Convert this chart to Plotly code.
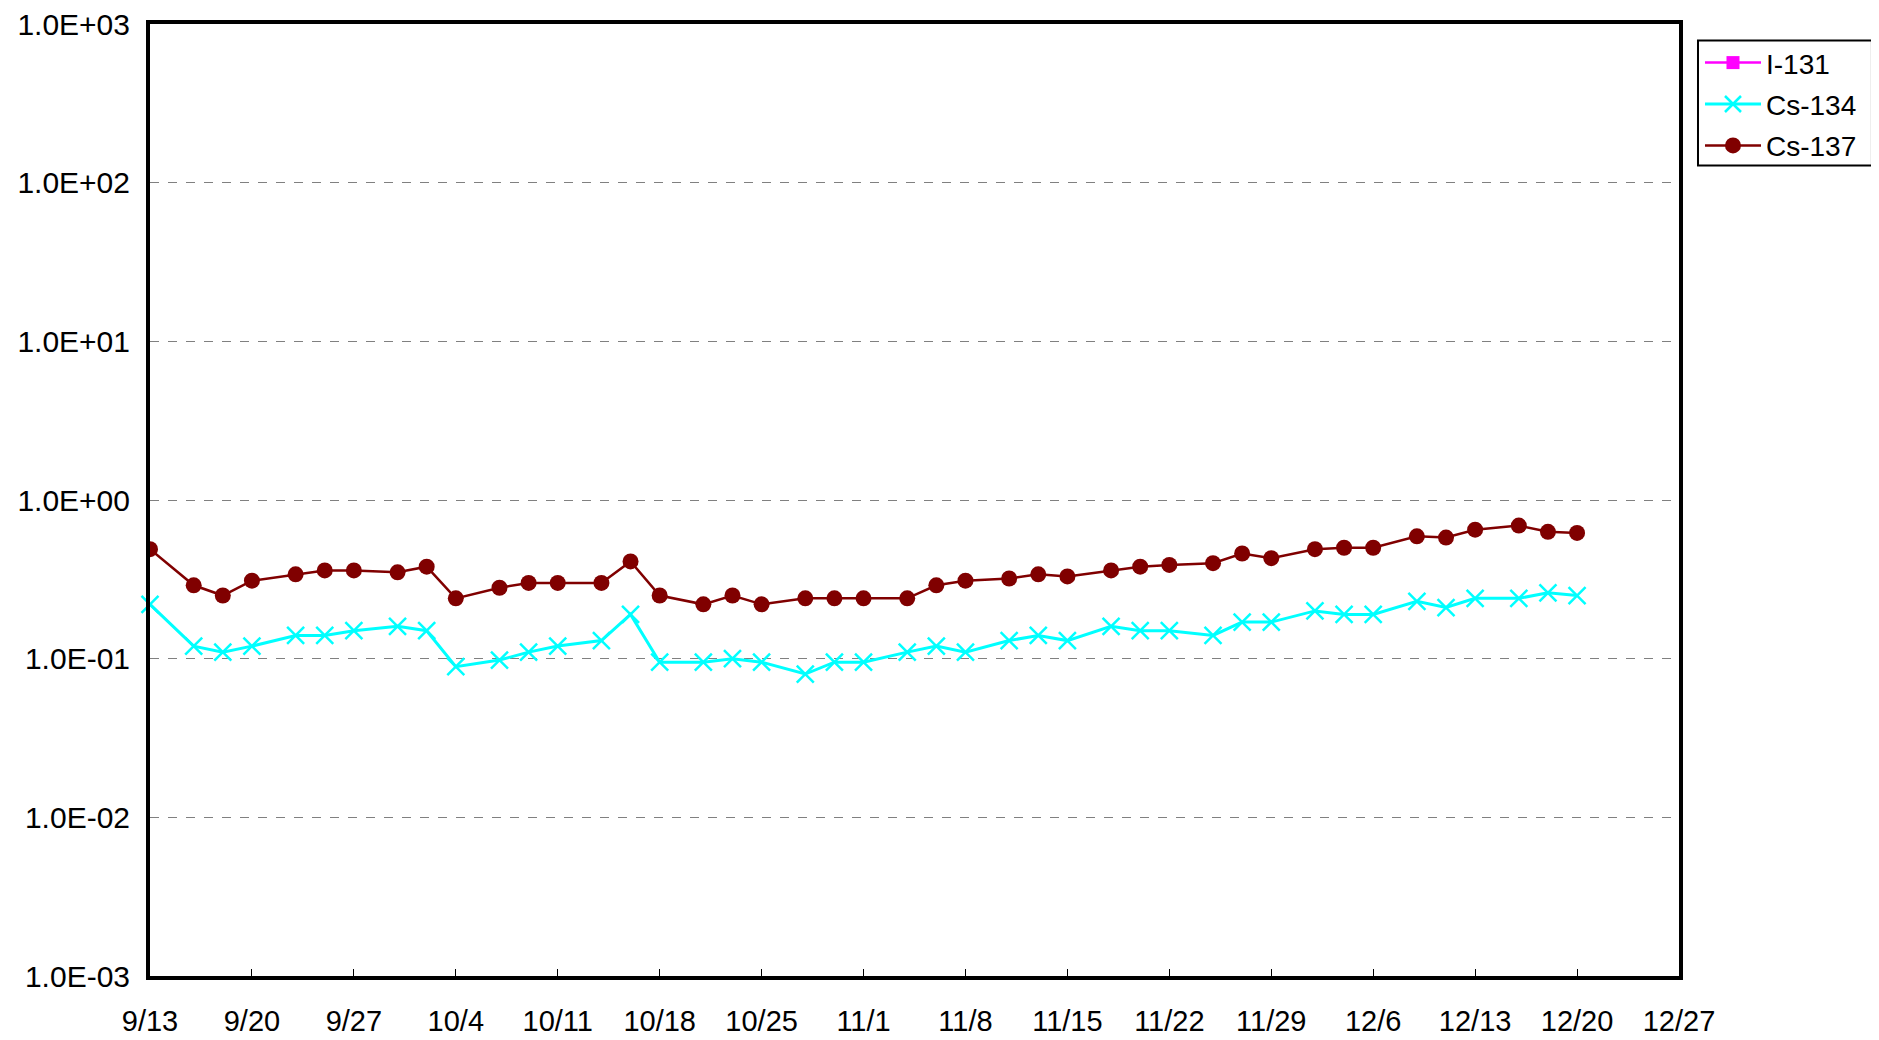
import plotly.graph_objects as go

dates = ["2013-09-11", "2013-09-13", "2013-09-16", "2013-09-18", "2013-09-20", "2013-09-23", "2013-09-25",
         "2013-09-27", "2013-09-30", "2013-10-02", "2013-10-04", "2013-10-07", "2013-10-09",
         "2013-10-11", "2013-10-14", "2013-10-16", "2013-10-18", "2013-10-21", "2013-10-23",
         "2013-10-25", "2013-10-28", "2013-10-30", "2013-11-01", "2013-11-04", "2013-11-06",
         "2013-11-08", "2013-11-11", "2013-11-13", "2013-11-15", "2013-11-18", "2013-11-20",
         "2013-11-22", "2013-11-25", "2013-11-27", "2013-11-29", "2013-12-02", "2013-12-04",
         "2013-12-06", "2013-12-09", "2013-12-11", "2013-12-13", "2013-12-16", "2013-12-18",
         "2013-12-20"]

i131 = [None] * len(dates)

cs134 = [None, 0.22, 0.12, 0.11, 0.12, 0.14, 0.14, 0.15, 0.16, 0.15, 0.089, 0.098, 0.11,
         0.12, 0.13, 0.19, 0.095, 0.095, 0.10, 0.095, 0.08, 0.095, 0.095, 0.11, 0.12,
         0.11, 0.13, 0.14, 0.13, 0.16, 0.15, 0.15, 0.14, 0.17, 0.17, 0.20, 0.19,
         0.19, 0.23, 0.21, 0.24, 0.24, 0.26, 0.25]

cs137 = [0.53, 0.49, 0.29, 0.25, 0.31, 0.34, 0.36, 0.36, 0.35, 0.38, 0.24, 0.28, 0.30,
         0.30, 0.30, 0.41, 0.25, 0.22, 0.25, 0.22, 0.24, 0.24, 0.24, 0.24, 0.29,
         0.31, 0.32, 0.34, 0.33, 0.36, 0.38, 0.39, 0.40, 0.46, 0.43, 0.49, 0.50,
         0.50, 0.59, 0.58, 0.65, 0.69, 0.63, 0.62]

x_tick_vals = ["2013-09-13", "2013-09-20", "2013-09-27", "2013-10-04", "2013-10-11",
               "2013-10-18", "2013-10-25", "2013-11-01", "2013-11-08", "2013-11-15",
               "2013-11-22", "2013-11-29", "2013-12-06", "2013-12-13", "2013-12-20",
               "2013-12-27"]
x_tick_text = ["9/13", "9/20", "9/27", "10/4", "10/11", "10/18", "10/25", "11/1", "11/8",
               "11/15", "11/22", "11/29", "12/6", "12/13", "12/20", "12/27"]

y_tick_vals = [1e-3, 1e-2, 1e-1, 1e0, 1e1, 1e2, 1e3]
y_tick_text = ["1.0E-03", "1.0E-02", "1.0E-01", "1.0E+00", "1.0E+01", "1.0E+02", "1.0E+03"]

FONT = "Liberation Sans, Arial, sans-serif"

L, R, T, B = 141.5, 208, 15.6, 72.4
W, H = 1879, 1040
pw, ph = W - L - R, H - T - B


def px(x):
    return (x - L) / pw


def py(y):
    return 1 - (y - T) / ph


fig = go.Figure()
fig.add_trace(go.Scatter(
    x=dates, y=i131, name="I-131", mode="lines+markers", legendgroup="a",
    line=dict(color="#FF00FF", width=2.5),
    marker=dict(symbol="square", size=13, color="#FF00FF"),
))
fig.add_trace(go.Scatter(
    x=dates, y=cs134, name="Cs-134", mode="lines+markers", legendgroup="b",
    line=dict(color="#00FFFF", width=3),
    marker=dict(symbol="x-thin", size=17, color="#00FFFF",
                line=dict(color="#00FFFF", width=2.5)),
    cliponaxis=False,
))
fig.add_trace(go.Scatter(
    x=dates, y=cs137, name="Cs-137", mode="lines+markers", legendgroup="c",
    line=dict(color="#800000", width=2.5),
    marker=dict(symbol="circle", size=16, color="#800000"),
))

fig.update_layout(
    width=W, height=H, autosize=False,
    margin=dict(l=L, r=R, t=T, b=B, autoexpand=False),
    paper_bgcolor="white", plot_bgcolor="white",
    font=dict(family=FONT, size=28, color="black"),
    showlegend=True,
    legend=dict(
        x=px(1692), y=py(29.5), xanchor="left", yanchor="top",
        borderwidth=0, bgcolor="rgba(0,0,0,0)",
        font=dict(family=FONT, size=28, color="black"),
        itemwidth=56, tracegroupgap=2,
    ),
    shapes=[dict(
        type="rect", xref="paper", yref="paper",
        x0=px(1690), x1=px(1864), y0=py(157), y1=py(32),
        line=dict(color="black", width=2), fillcolor="rgba(0,0,0,0)",
    )],
)

fig.update_xaxes(
    type="date", range=["2013-09-13", "2013-12-27"],
    tickvals=x_tick_vals, ticktext=x_tick_text,
    ticks="inside", ticklen=7, tickwidth=1, tickcolor="black",
    showline=True, linecolor="black", linewidth=4, mirror=True,
    showgrid=False, zeroline=False, automargin=False,
    tickfont=dict(family=FONT, size=29, color="black"),
    ticklabelstandoff=16, ticklabeloverflow="allow",
)
fig.update_yaxes(
    type="log", range=[-3, 3],
    tickvals=y_tick_vals, ticktext=y_tick_text,
    ticks="", showline=True, linecolor="black", linewidth=4, mirror=True,
    showgrid=True, gridcolor="#808080", gridwidth=1, griddash="dash",
    zeroline=False, automargin=False,
    tickfont=dict(family=FONT, size=30, color="black"),
    ticklabelstandoff=10, ticklabeloverflow="allow",
)

fig.write_html("out.html")
